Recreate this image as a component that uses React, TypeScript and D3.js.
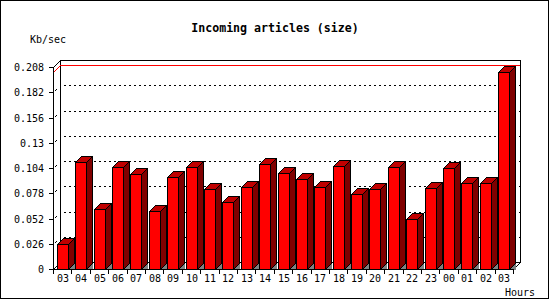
import React from "react";
import * as d3 from "d3";

const hours = ["03","04","05","06","07","08","09","10","11","12","13","14","15","16","17","18","19","20","21","22","23","00","01","02","03"];
const values = [0.026,0.110,0.062,0.1047,0.0976,0.0602,0.0945,0.105,0.0821,0.0694,0.0842,0.108,0.0986,0.0924,0.0842,0.106,0.077,0.0821,0.1053,0.0513,0.0832,0.1037,0.0883,0.0883,0.2029];
const yTicks = [0,0.026,0.052,0.078,0.104,0.13,0.156,0.182,0.208];
const yTickLabels = ["0","0.026","0.052","0.078","0.104","0.13","0.156","0.182","0.208"];
const title = "Incoming articles (size)";
const yUnit = "Kb/sec";
const xUnit = "Hours";

const W = 550, H = 300;
const X0 = 53, X1 = 513, Y0 = 269, YT = 67, D = 7, BD = 6, BW = 11;
const mono = "'DejaVu Sans Mono', 'Liberation Mono', monospace";

export default function App() {
  const y = d3.scaleLinear().domain([0, 0.208]).range([Y0, YT]);
  const x = d3.scaleBand<number>().domain(d3.range(hours.length)).range([X0, X1]).padding(0);
  const bw = x.bandwidth();
  const maxV = d3.max(values) as number;
  const yMax = Math.round(y(maxV));

  const p = (pts: number[][]) => pts.map(q => q.join(",")).join(" ");

  return (
    <svg width={W} height={H} style={{ position: "absolute", left: 0, top: 0, background: "#fff" }} shapeRendering="crispEdges">
      <rect x={0.5} y={0.5} width={548} height={298} fill="#fff" stroke="#000" />
      {/* back wall */}
      <line x1={X0 + D + 0.5} y1={Y0 - D - (Y0 - YT) + 0.5} x2={X1 + D + 0.5} y2={Y0 - D - (Y0 - YT) + 0.5} stroke="#000" />
      <line x1={X0 + D + 0.5} y1={YT - D + 0.5} x2={X0 + D + 0.5} y2={Y0 - D + 0.5} stroke="#000" />
      <line x1={X1 + D + 0.5} y1={YT - D + 0.5} x2={X1 + D + 0.5} y2={Y0 - D + 0.5} stroke="#000" />
      <line x1={X0 + D + 0.5} y1={Y0 - D + 0.5} x2={X1 + D + 0.5} y2={Y0 - D + 0.5} stroke="#000" />
      {/* grid */}
      {yTicks.slice(1, -1).map((v, i) => {
        const yy = Math.round(y(v)) - D + 0.5;
        return <line key={"g" + i} x1={X0 + D + 4} x2={X1 + D} y1={yy} y2={yy} stroke="#000" strokeDasharray="2,3" />;
      })}
      {/* max line */}
      <line x1={X0 + D + 0.5} x2={X1 + D} y1={yMax - D + 0.5} y2={yMax - D + 0.5} stroke="#f00" />
      <line x1={X0 + 0.5} y1={yMax + 0.5} x2={X0 + D + 0.5} y2={yMax - D + 0.5} stroke="#f00" />
      {/* floor */}
      <line x1={X0 + 0.5} y1={Y0 + 0.5} x2={X0 + D + 0.5} y2={Y0 - D + 0.5} stroke="#000" />
      <line x1={X1 + 0.5} y1={Y0 + 0.5} x2={X1 + D + 0.5} y2={Y0 - D + 0.5} stroke="#000" />
      <line x1={X0 + 0.5} y1={YT + 0.5} x2={X0 + D + 0.5} y2={YT - D + 0.5} stroke="#000" />
      {/* bars */}
      {values.map((v, i) => {
        const bx = Math.round((x(i) as number) + (bw - BW) / 2) + 0.5;
        const yt = Math.round(y(v)) + 0.5;
        const yb = Y0 + 0.5;
        return (
          <g key={"b" + i}>
            <polygon points={p([[bx + BW, yb], [bx + BW + BD, yb - BD], [bx + BW + BD, yb]])} fill="#808080" />
            <polygon points={p([[bx + BW, yt], [bx + BW + BD, yt - BD], [bx + BW + BD, yb - BD], [bx + BW, yb]])} fill="#800000" stroke="#000" />
            <polygon points={p([[bx, yt], [bx + BD, yt - BD], [bx + BW + BD, yt - BD], [bx + BW, yt]])} fill="#c00000" stroke="#000" />
            <rect x={bx} y={yt} width={BW} height={yb - yt} fill="#f00" stroke="#000" />
          </g>
        );
      })}
      {/* front axes */}
      <line x1={X0 + 0.5} y1={YT + 0.5} x2={X0 + 0.5} y2={Y0 + 0.5} stroke="#000" />
      <line x1={X0 + 0.5} y1={Y0 + 0.5} x2={X1 + 0.5} y2={Y0 + 0.5} stroke="#000" />
      {yTicks.map((v, i) => {
        const yy = Math.round(y(v)) + 0.5;
        return (
          <g key={"yt" + i}>
            <line x1={X0 - 4} x2={X0 + 0.5} y1={yy} y2={yy} stroke="#000" />
            {i > 0 && i < yTicks.length - 1 && (
              <line x1={X0 + 1.5} y1={yy - 1} x2={X0 + 3.5} y2={yy - 3} stroke="#000" />
            )}
            <text x={44} y={yy + 3.5} textAnchor="end" fontFamily={mono} fontSize={10} fill="#000">{yTickLabels[i]}</text>
          </g>
        );
      })}
      {d3.range(hours.length + 1).map(i => {
        const xx = Math.round(X0 + i * bw) + 0.5;
        return <line key={"xt" + i} x1={xx} x2={xx} y1={Y0 + 0.5} y2={Y0 + 4.5} stroke="#000" />;
      })}
      {hours.map((h, i) => (
        <text key={"xl" + i} x={Math.round((x(i) as number) + (bw - BW) / 2) + 0.5 + BW / 2} y={281.5} textAnchor="middle" fontFamily={mono} fontSize={10} fill="#000">{h}</text>
      ))}
      <text x={275} y={32} textAnchor="middle" fontFamily={mono} fontWeight="bold" fontSize={11.6} fill="#000">{title}</text>
      <text x={30} y={42.5} fontFamily={mono} fontSize={10} fill="#000">{yUnit}</text>
      <text x={505} y={295.5} fontFamily={mono} fontSize={10} fill="#000">{xUnit}</text>
    </svg>
  );
}
